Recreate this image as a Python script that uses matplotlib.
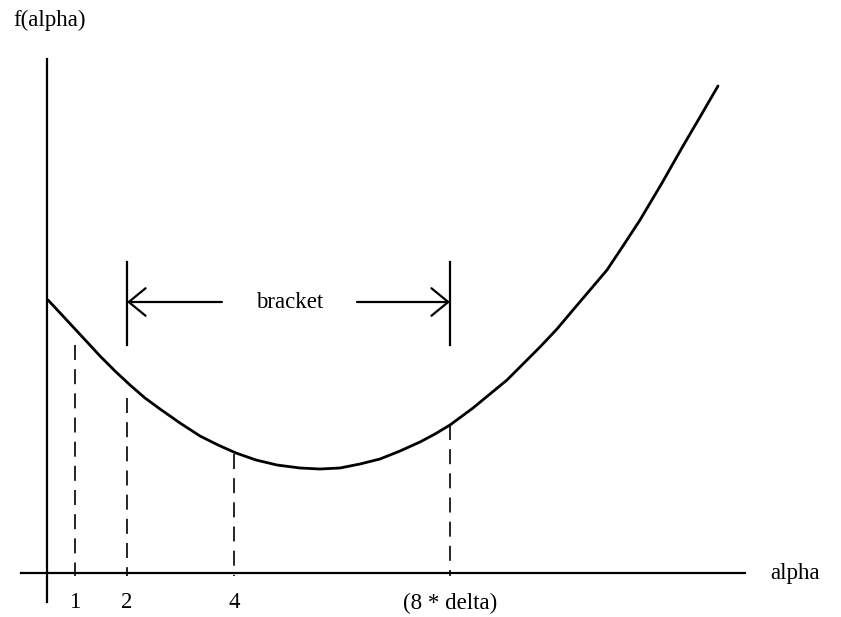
import matplotlib
matplotlib.use("Agg")
import matplotlib.pyplot as plt

# curve f(alpha) (horizontal / vertical distance from the axes origin)
curve_x = [0.1, 1.5, 2.8, 4.1, 5.3, 6.8, 8.3, 9.8, 11.3, 13.3,
           15.3, 17.1, 18.9, 20.9, 23.0, 25.3, 27.3, 29.3, 31.3, 33.3,
           35.3, 37.3, 38.8, 40.3, 42.6, 44.3, 46.0, 47.6, 49.3, 51.0,
           52.6, 54.3, 56.0, 57.6, 59.3, 61.5, 63.6, 65.3, 67.1]
curve_y = [27.3, 25.8, 24.4, 23.0, 21.7, 20.2, 18.8, 17.5, 16.4, 15.0,
           13.7, 12.8, 12.0, 11.3, 10.8, 10.5, 10.4, 10.5, 10.9, 11.4,
           12.2, 13.1, 13.9, 14.8, 16.5, 17.9, 19.3, 20.9, 22.6, 24.4,
           26.3, 28.3, 30.3, 32.7, 35.3, 39.0, 42.7, 45.6, 48.7]

# trial steps marked on the alpha axis
step_pos = [2.8, 8.0, 18.7, 40.3]
step_labels = ["1", "2", "4", "(8 * delta)"]
step_tops = [22.8, 17.5, 11.9, 14.8]

# bracket between step 2 and step 8*delta
bracket_lo, bracket_hi = 8.0, 40.3
bracket_y = 27.1
bracket_span = (22.8, 31.1)
bracket_gap = (17.5, 31.0)

x_axis = (-2.6, 69.8)
y_axis = (-2.9, 51.4)

plt.rcParams["font.family"] = ["Liberation Serif", "DejaVu Serif"]

fig = plt.figure(figsize=(8.41, 6.17), dpi=100)
ax = fig.add_axes([0, 0, 1, 1])
ax.set_xlim(-4.7, 79.4)
ax.set_ylim(-4.4, 57.3)
ax.axis("off")

# axes
ax.plot(x_axis, [0, 0], color="black", lw=1.6)
ax.plot([0, 0], y_axis, color="black", lw=1.6)

# function curve
ax.plot(curve_x, curve_y, color="black", lw=2.0, solid_joinstyle="round",
        solid_capstyle="round")

# dashed drop lines (drawn top-down so each starts with a dash) and labels
for x, top, lab in zip(step_pos, step_tops, step_labels):
    ax.plot([x, x], [top, -0.3], color="black", lw=1.2, linestyle=(0, (9, 5.5)))
    ax.text(x, -3.0, lab, ha="center", va="center", fontsize=16.5)

# bracket
for x in (bracket_lo, bracket_hi):
    ax.plot([x, x], bracket_span, color="black", lw=1.6)
arrow = dict(arrowstyle="->,head_length=0.55,head_width=0.45", color="black",
             lw=1.6, shrinkA=0, shrinkB=0, mutation_scale=22)
ax.annotate("", xy=(bracket_lo, bracket_y), xytext=(bracket_gap[0], bracket_y),
            arrowprops=arrow)
ax.annotate("", xy=(bracket_hi, bracket_y), xytext=(bracket_gap[1], bracket_y),
            arrowprops=arrow)
ax.text((bracket_gap[0] + bracket_gap[1]) / 2, bracket_y, "bracket",
        ha="center", va="center", fontsize=16.5)

# axis titles
ax.text(-3.4, 55.3, "f(alpha)", ha="left", va="center", fontsize=16.5)
ax.text(72.3, 0, "alpha", ha="left", va="center", fontsize=16.5)

fig.savefig("out.png", dpi=100)
